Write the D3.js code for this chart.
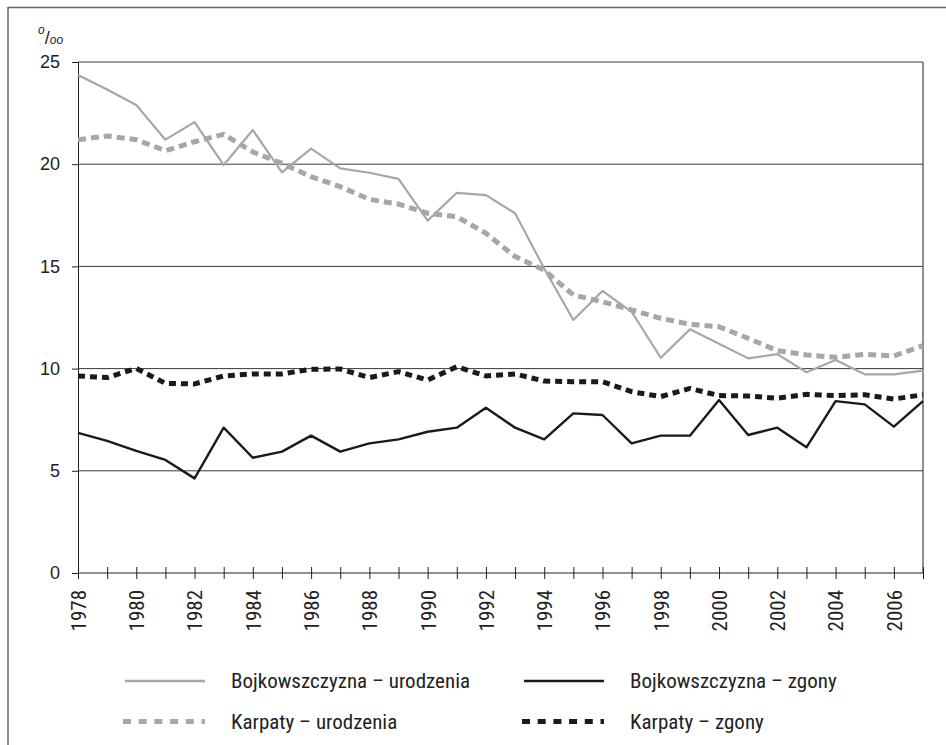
<!DOCTYPE html>
<html><head><meta charset="utf-8">
<script src="https://cdn.jsdelivr.net/npm/d3@7"></script>
<style>
body{margin:0;background:#fff;}
svg{display:block;}
text{font-family:"Liberation Sans Narrow","Arial Narrow","Roboto Condensed","Liberation Sans",sans-serif;fill:#222;}
</style></head>
<body>
<svg id="c" width="946" height="745"></svg>
<script>
const years = d3.range(1978, 2008);
const bojkUrodzenia = [24.36,23.65,22.9,21.2,22.06,19.96,21.67,19.6,20.76,19.8,19.58,19.28,17.24,18.6,18.49,17.6,14.9,12.38,13.8,12.78,10.53,11.92,11.22,10.5,10.71,9.82,10.42,9.72,9.72,9.9];
const karpatyUrodzenia = [21.2,21.38,21.2,20.66,21.1,21.46,20.6,20.04,19.39,18.9,18.28,18.05,17.6,17.43,16.62,15.48,14.82,13.6,13.27,12.87,12.46,12.17,12.05,11.48,10.88,10.67,10.55,10.7,10.62,11.12];
const bojkZgony = [6.86,6.46,5.97,5.53,4.63,7.11,5.64,5.94,6.72,5.94,6.34,6.54,6.91,7.11,8.09,7.11,6.54,7.81,7.73,6.34,6.72,6.72,8.46,6.75,7.11,6.15,8.41,8.25,7.16,8.41];
const karpatyZgony = [9.64,9.56,10.01,9.28,9.25,9.64,9.74,9.74,9.97,9.98,9.56,9.85,9.44,10.09,9.64,9.74,9.39,9.36,9.36,8.87,8.63,9.03,8.68,8.66,8.55,8.74,8.68,8.72,8.51,8.72];
const yTicks = [0,5,10,15,20,25];
const seriesNames = ["Bojkowszczyzna – urodzenia","Bojkowszczyzna – zgony","Karpaty – urodzenia","Karpaty – zgony"];

const svg = d3.select("#c");
const L=78, R=923, T=62, B=573;
const x = d3.scaleLinear().domain([1978,2007]).range([L,R]);
const y = d3.scaleLinear().domain([0,25]).range([B,T]);

// outer frame
svg.append("line").attr("x1",8).attr("x2",8).attr("y1",7).attr("y2",745).attr("stroke","#666").attr("stroke-width",1.5);
svg.append("line").attr("x1",8).attr("x2",946).attr("y1",7.5).attr("y2",7.5).attr("stroke","#666").attr("stroke-width",1.5);

// gridlines
svg.append("g").selectAll("line").data(yTicks.filter(d=>d>0)).join("line")
  .attr("x1",L).attr("x2",R).attr("y1",d=>y(d)).attr("y2",d=>y(d))
  .attr("stroke","#3a3a3a").attr("stroke-width",1);
// right border
svg.append("line").attr("x1",R).attr("x2",R).attr("y1",T).attr("y2",B).attr("stroke","#444").attr("stroke-width",1.2);

// y axis
const yAxis = d3.axisLeft(y).tickValues(yTicks).tickSize(6).tickPadding(12).tickFormat(d3.format("d"));
const gy = svg.append("g").attr("transform",`translate(${L},0)`).call(yAxis);
gy.select(".domain").attr("stroke","#222");
gy.selectAll(".tick line").attr("stroke","#222");
gy.selectAll(".tick text").attr("font-size",18).attr("fill","#222")
  .style("font-family","'Liberation Sans',Arial,sans-serif");

// x axis
const xAxis = d3.axisBottom(x).tickValues(years).tickSize(6).tickFormat(d=> (d%2===0 && d<2007)? d : "");
const gx = svg.append("g").attr("transform",`translate(0,${B})`).call(xAxis);
gx.select(".domain").attr("stroke","#222").attr("d",`M${L},0H${R}`);
gx.selectAll(".tick line").attr("stroke","#222").attr("y1",-6).attr("y2",6);
gx.selectAll(".tick text").attr("font-size",21).attr("fill","#222")
  .attr("transform","rotate(-90)").attr("text-anchor","end")
  .attr("x",-17).attr("y",0).attr("dy","0.35em");

// lines
const line = d3.line().x((d,i)=>x(years[i])).y(d=>y(d));
const styles = [
  {data:bojkUrodzenia, stroke:"#a7a7a9", w:2.2, dash:null},
  {data:karpatyUrodzenia, stroke:"#a7a7a9", w:5, dash:"8,5"},
  {data:karpatyZgony, stroke:"#1a1a1a", w:5, dash:"7,5"},
  {data:bojkZgony, stroke:"#1a1a1a", w:2.4, dash:null}
];
styles.forEach(s=>{
  svg.append("path").datum(s.data).attr("d",line).attr("fill","none")
    .attr("stroke",s.stroke).attr("stroke-width",s.w)
    .attr("stroke-dasharray",s.dash).attr("stroke-linejoin","round");
});

// per-mille label
const pm = svg.append("text").attr("x",38).attr("y",44).attr("font-size",20)
  .style("font-family","'Liberation Sans',Arial,sans-serif");
pm.append("tspan").attr("font-size",12).attr("dy",-10).attr("font-style","italic").text("o");
pm.append("tspan").attr("dy",10).attr("font-size",18).text("/");
pm.append("tspan").attr("font-size",12).attr("font-style","italic").text("oo");

// legend
const legend = [
  {name:seriesNames[0], stroke:"#a7a7a9", w:2.5, dash:null, lx:125, ly:681},
  {name:seriesNames[1], stroke:"#1a1a1a", w:2.5, dash:null, lx:524, ly:681},
  {name:seriesNames[2], stroke:"#a7a7a9", w:5, dash:"8,7.7", lx:125, ly:721.5},
  {name:seriesNames[3], stroke:"#1a1a1a", w:5, dash:"8,7.7", lx:524, ly:721.5}
];
const lg = svg.append("g").selectAll("g").data(legend).join("g");
lg.append("line").attr("x1",d=>d.lx+(d.dash?-2:0)).attr("x2",d=>d.lx+80).attr("y1",d=>d.ly).attr("y2",d=>d.ly)
  .attr("stroke",d=>d.stroke).attr("stroke-width",d=>d.w).attr("stroke-dasharray",d=>d.dash);
lg.append("text").attr("x",d=>d.lx+106).attr("y",d=>d.ly).attr("dy","0.35em")
  .attr("font-size",21).text(d=>d.name);
</script>
</body></html>
